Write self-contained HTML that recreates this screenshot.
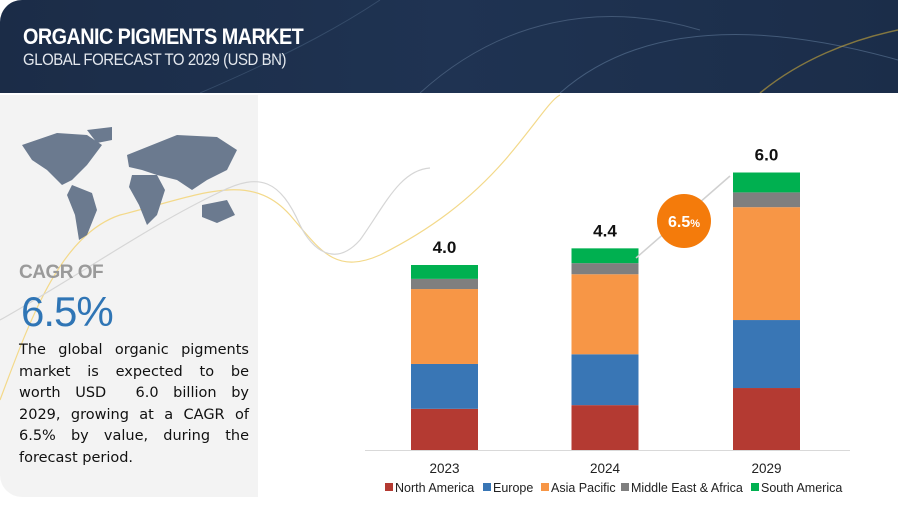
<!DOCTYPE html>
<html><head><meta charset="utf-8"><style>
body{margin:0;width:900px;height:508px;background:#fff;position:relative;overflow:hidden;font-family:"Liberation Sans",sans-serif}
.abs{position:absolute}
.ln{display:block;text-align:justify;text-align-last:justify;white-space:nowrap;height:21.5px}
.ln.last{text-align-last:left}
</style></head><body>
<div class="abs" style="left:0;top:0;width:898px;height:93px;border-radius:22px 0 0 0;background:linear-gradient(90deg,#1b2c47,#1f3352 50%,#1b2d49);overflow:hidden">
<svg width="898" height="93" class="abs" style="left:0;top:0">
<path d="M420 93 C500 20 600 0 700 30" stroke="#5a7290" stroke-width="1" fill="none" opacity=".6"/>
<path d="M560 93 C620 40 720 10 898 60" stroke="#6a85a5" stroke-width="1" fill="none" opacity=".5"/>
<path d="M200 93 C300 50 350 20 380 0" stroke="#4c6584" stroke-width="1" fill="none" opacity=".5"/>
<path d="M760 93 C800 60 850 40 898 30" stroke="#c9a93a" stroke-width="1.5" fill="none" opacity=".6"/>
</svg>
<div class="abs" style="left:23px;top:24px;color:#fff;font-weight:bold;font-size:22px;letter-spacing:-0.6px;transform:scaleX(.9);transform-origin:left">ORGANIC PIGMENTS MARKET</div>
<div class="abs" style="left:23px;top:50px;color:#e4e8ee;font-size:17px;letter-spacing:-0.5px;transform:scaleX(.88);transform-origin:left">GLOBAL FORECAST TO 2029 (USD BN)</div>
</div>
<div class="abs" style="left:0;top:95px;width:258px;height:402px;background:#f3f3f3;border-radius:0 0 0 22px"></div>
<svg class="abs" style="left:0;top:0" width="900" height="508">
<path d="M0 400 C30 320 60 235 120 215 C200 195 250 170 290 215 C320 250 335 275 380 255 C430 230 470 200 505 160 C535 125 550 100 560 95" stroke="#f3d98a" stroke-width="1.2" fill="none"/>
<path d="M0 320 C80 275 150 225 220 192 C260 172 280 180 300 225 C312 250 335 268 360 240 C385 205 400 170 430 168" stroke="#d6d6d6" stroke-width="1.2" fill="none"/>
</svg>
<svg class="abs" style="left:17px;top:125px" width="230" height="120" fill="#6b7a8f">
<path d="M5 20 L40 8 L70 10 L85 20 L70 40 L55 55 L45 60 L30 45 L15 35 Z"/>
<path d="M55 60 L75 68 L80 85 L70 110 L62 115 L58 90 L50 70 Z"/>
<path d="M70 5 L95 2 L95 15 L80 18 Z"/>
<path d="M110 30 L135 20 L160 10 L200 12 L220 25 L210 45 L190 55 L175 65 L160 55 L140 50 L125 45 L112 42 Z"/>
<path d="M115 50 L140 50 L148 65 L140 90 L130 100 L122 80 L112 62 Z"/>
<path d="M185 80 L210 75 L218 90 L200 98 L185 92 Z"/>
</svg>
<div class="abs" style="left:19px;top:262px;font-size:19px;font-weight:bold;color:#9a9a9a;letter-spacing:-0.5px">CAGR OF</div>
<div class="abs" style="left:21px;top:288px;font-size:42px;color:#2f75b5;letter-spacing:-1px">6.5%</div>
<div class="abs" style="left:19px;top:340px;width:230px;font-family:'DejaVu Sans',sans-serif;font-size:14.5px;line-height:21.5px;color:#111">
<span class="ln">The global organic pigments</span>
<span class="ln">market is expected to be</span>
<span class="ln">worth USD &nbsp;6.0 billion by</span>
<span class="ln">2029, growing at a CAGR of</span>
<span class="ln">6.5% by value, during the</span>
<span class="ln last">forecast period.</span>
</div>
<svg class="abs" id="chart" style="left:0;top:0" width="900" height="508"></svg>
<script>
const categories=["2023","2024","2029"];
const northAmerica=[0.89,0.97,1.34];
const europe=[0.97,1.10,1.47];
const asiaPacific=[1.62,1.73,2.44];
const middleEastAfrica=[0.22,0.24,0.32];
const southAmerica=[0.30,0.32,0.43];
const totalLabels=["4.0","4.4","6.0"];
const seriesNames=["North America","Europe","Asia Pacific","Middle East & Africa","South America"];
const NS="http://www.w3.org/2000/svg";
const svg=document.getElementById('chart');
const series=[northAmerica,europe,asiaPacific,middleEastAfrica,southAmerica];
const colors=["#b43a32","#3976b5","#f79646","#7f7f7f","#00b050"];
const base=450,ppu=46.25;
const y=v=>base-v*ppu;
const xc=i=>[444.5,605,766.5][i];
const bw=67;
function mk(t,a){const e=document.createElementNS(NS,t);for(const k in a)e.setAttribute(k,a[k]);svg.appendChild(e);return e;}
const ax=mk('line',{x1:365,x2:850,y1:base+0.5,y2:base+0.5,stroke:'#d9d9d9','stroke-width':1});


categories.forEach((c,i)=>{
 let cum=0;
 series.forEach((s,j)=>{
  const r=mk('rect',{x:xc(i)-bw/2,y:y(cum+s[i]),width:bw,height:s[i]*ppu,fill:colors[j]});
  
  
  cum+=s[i];
 });
 const t=mk('text',{x:xc(i),y:y(cum)-12,'text-anchor':'middle','font-size':17,'font-weight':'bold',fill:'#111'});
 t.textContent=totalLabels[i];
 
 
 const l=mk('text',{x:xc(i),y:473,'text-anchor':'middle','font-size':13.5,fill:'#222'});
 l.textContent=c;
 
 
});
const ar=mk('line',{x1:636,y1:258,x2:730,y2:176,stroke:'#d0d0d0','stroke-width':1.5});


const c=mk('circle',{cx:684,cy:221,r:27,fill:'#f47b0b'});


const ct=mk('text',{x:684,y:227,'text-anchor':'middle','font-size':16,'font-weight':'bold',fill:'#fff'});
ct.innerHTML='6.5<tspan font-size="11">%</tspan>';


const lx=[385,483,541,621,751];
seriesNames.forEach((n,j)=>{
 const r=mk('rect',{x:lx[j],y:483,width:8,height:8,fill:colors[j]});
 
 
 const t=mk('text',{x:lx[j]+10,y:492,'font-size':12.5,fill:'#222'});
 t.textContent=n;
 
 
});
</script>
</body></html>
